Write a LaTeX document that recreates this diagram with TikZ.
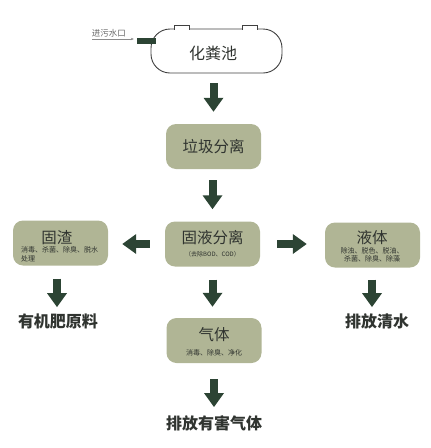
\documentclass[tikz,border=0pt]{standalone}
\usepackage{fontspec}
\newfontfamily\cjk{Noto Sans CJK SC}
\usetikzlibrary{arrows.meta}
\definecolor{boxgreen}{RGB}{176,181,149}
\definecolor{arrowgreen}{RGB}{44,68,52}
\definecolor{txtgray}{RGB}{48,52,48}
\tikzset{
  box/.style={fill=boxgreen, rounded corners=10pt, minimum width=95pt, minimum height=45pt, inner sep=0pt},
  bigarrow/.style={arrowgreen, line width=8pt, -{Triangle[width=19pt,length=14pt]}},
  title/.style={font=\cjk\fontsize{15.5}{15.5}\selectfont, text=txtgray, inner sep=0pt},
  sub/.style={font=\cjk\fontsize{7}{8.5}\selectfont, text=txtgray, inner sep=0pt},
  result/.style={font=\cjk\bfseries\fontsize{16}{16}\selectfont, text=txtgray, inner sep=0pt}
}
\begin{document}
\begin{tikzpicture}[x=1pt,y=-1pt]
  \useasboundingbox (0,0) rectangle (431,448);
  % tank
  \node (tank) [draw=black!75, line width=0.9pt, rounded corners=19pt, minimum width=131pt, minimum height=44pt, inner sep=0pt] at (216.5,51) {};
  \foreach \x in {174,242}
    \draw[black!75, line width=0.9pt, fill=white] (\x,29.6) -- (\x,25) -- (\x+15,25) -- (\x+15,29.6);
  \node[font=\cjk\fontsize{16}{16}\selectfont, text=txtgray] (tank-t) at (213,53) {化粪池};
  \node (inlet) [fill=arrowgreen, minimum width=19pt, minimum height=6pt, inner sep=0pt] at (146.5,41) {};
  \node[sub, font=\cjk\fontsize{8.5}{8.5}\selectfont, text=black!60] (inlet-t) at (109,33) {进污水口};
  \coordinate (inlet-s) at (92,39);
  \draw[black!45, line width=0.5pt, -{Stealth[length=3pt,width=2.5pt]}] (inlet-s) -- (inlet.west |- inlet-s) [shorten >=3pt];
  % boxes
  \node[box] (lj) at (213.5,146.5) {};
  \node[title] (lj-t) at (lj.center) {垃圾分离};
  \node[box] (gy) at (212.5,244) {};
  \node[title] (gy-t) at (212.5,238) {固液分离};
  \node[sub, font=\cjk\fontsize{6}{6}\selectfont] (gy-s) at (212.5,254) {（去除BOD、COD）};
  \node[box] (gz) at (60.5,243) {};
  \node[title] (gz-t) at (57,238) {固渣};
  \node[sub, anchor=west, align=left] (gz-s) at (21,254.5) {消毒、杀菌、除臭、脱水\\处理};
  \node[box] (yt) at (372.5,245) {};
  \node[title] (yt-t) at (372,238) {液体};
  \node[sub, align=center] (yt-s) at (372,255) {除浊、脱色、脱油、\\杀菌、除臭、除藻};
  \node[box] (qt) at (214,340.5) {};
  \node[title] (qt-t) at (214,335) {气体};
  \node[sub] (qt-s) at (214,353) {消毒、除臭、净化};
  % results
  \node[result] (gz-r) at (58,321) {有机肥原料};
  \node[result] (yt-r) at (377,321) {排放清水};
  \node[result] (qt-r) at (214,423) {排放有害气体};
  % arrows
  \draw[bigarrow, shorten <=10pt, shorten >=12pt] (tank.south -| lj.north) -- (lj.north);
  \draw[bigarrow, shorten <=11pt, shorten >=12pt] (lj.south -| gy.north) -- (gy.north);
  \draw[bigarrow, shorten <=15pt, shorten >=14pt] (gy.west) -- (gz.east |- gy.west);
  \draw[bigarrow, shorten <=17pt, shorten >=18pt] (gy.east) -- (yt.west |- gy.east);
  \draw[bigarrow, shorten <=13pt, shorten >=11pt] (gy.south) -- (gy.south |- qt.north);
  \draw[bigarrow, shorten <=13pt, shorten >=6pt] (gz.south -| gz-t) -- (gz-r.north -| gz-t);
  \draw[bigarrow, shorten <=12pt, shorten >=6pt] (yt.south -| yt-t) -- (yt-r.north -| yt-t);
  \draw[bigarrow, shorten <=16pt, shorten >=8pt] (qt.south) -- (qt-r.north -| qt.south);
\end{tikzpicture}
\end{document}
